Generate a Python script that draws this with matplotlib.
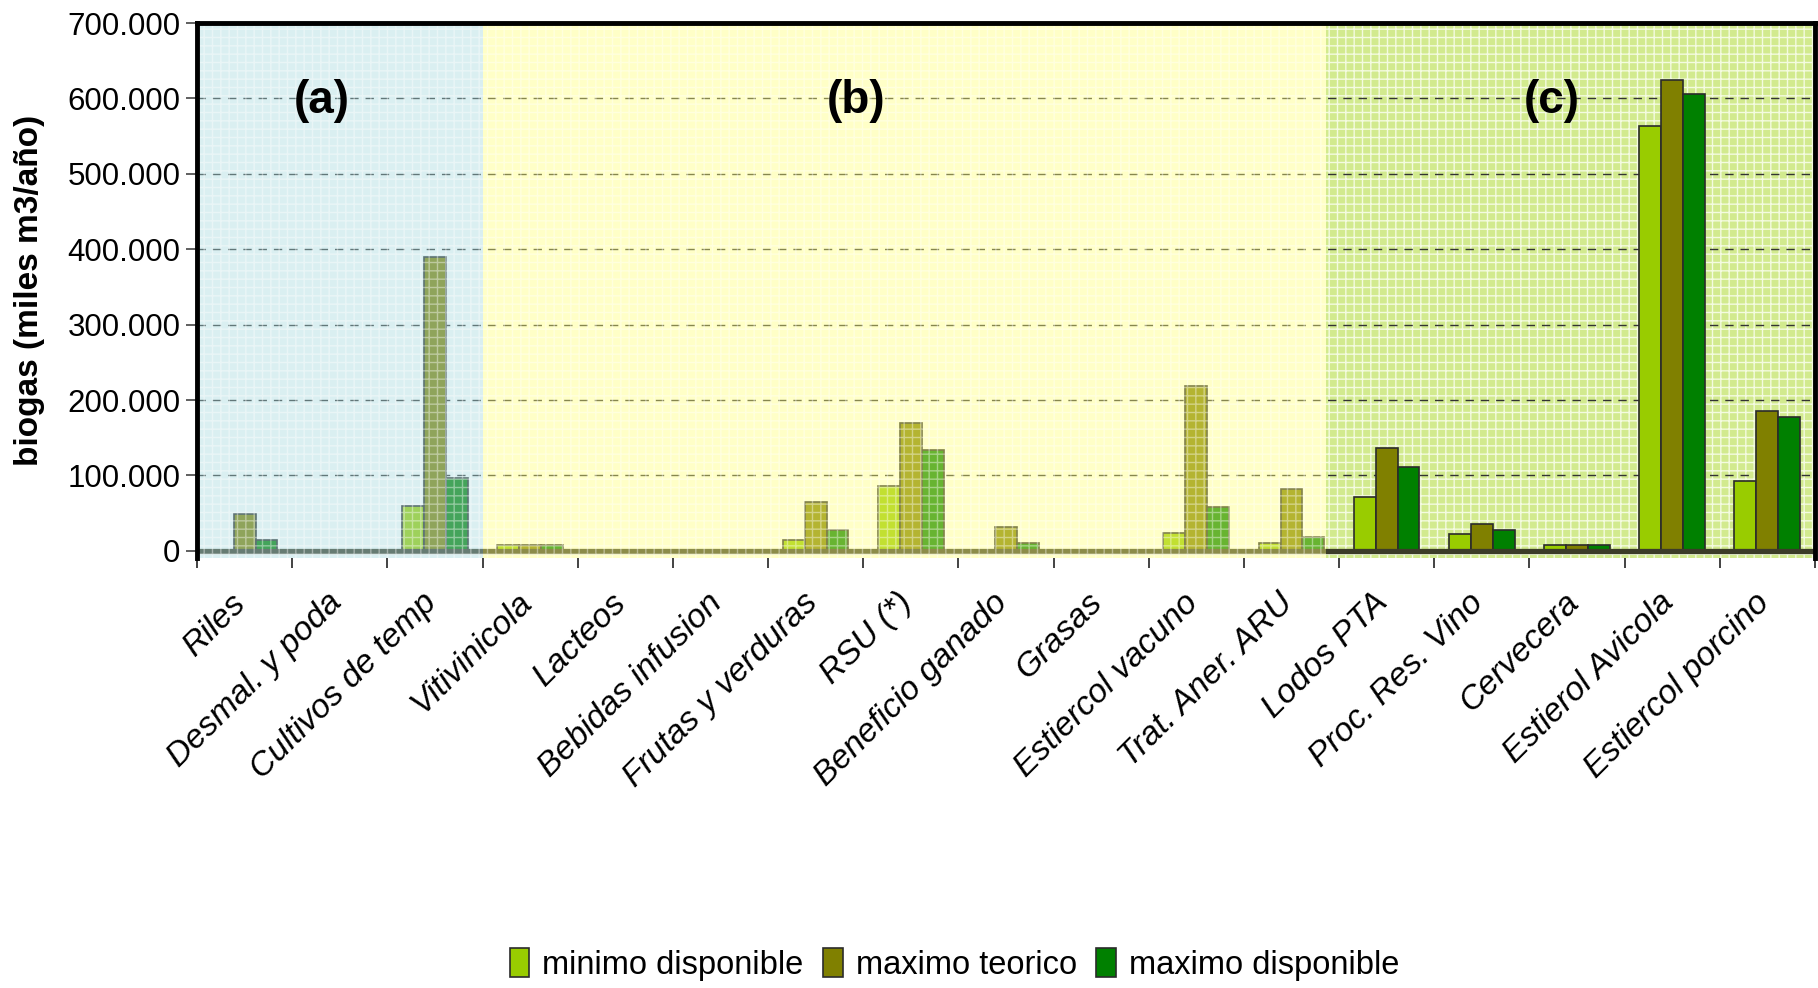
import numpy as np
import matplotlib.pyplot as plt
from matplotlib.ticker import FuncFormatter, MultipleLocator, FixedLocator
from matplotlib.transforms import ScaledTranslation

plt.rcParams['font.family'] = ['Liberation Sans', 'DejaVu Sans']

categorias = ["Riles", "Desmal. y poda", "Cultivos de temp", "Vitivinicola", "Lacteos",
              "Bebidas infusion", "Frutas y verduras", "RSU (*)", "Beneficio ganado", "Grasas",
              "Estiercol vacuno", "Trat. Aner. ARU", "Lodos PTA", "Proc. Res. Vino",
              "Cervecera", "Estierol Avicola", "Estiercol porcino"]

# miles m3/año
minimo_disponible = [0, 0, 60000, 7500, 0, 0, 14000, 86000, 0, 0,
                     23500, 11000, 71000, 22000, 7500, 563000, 92000]
maximo_teorico = [49000, 0, 390000, 7500, 0, 0, 65000, 169000, 31000, 0,
                  219000, 82000, 137000, 35000, 7500, 625000, 186000]
maximo_disponible = [14000, 0, 97000, 7500, 0, 0, 27000, 134000, 10000, 0,
                     58000, 18000, 111000, 27500, 7500, 606000, 178000]

series = ["minimo disponible", "maximo teorico", "maximo disponible"]
colores = ["#99CC00", "#808000", "#008000"]

# zonas de fondo (a), (b), (c)
zonas = ["(a)", "(b)", "(c)"]

fig = plt.figure(figsize=(18.18, 9.88), dpi=100)
ax = fig.add_axes([0.1084, 0.4352, 0.8899, 0.5415])

x = np.arange(len(categorias))
ancho = 0.23
valores = [minimo_disponible, maximo_teorico, maximo_disponible]
for i, (nombre, vals, col) in enumerate(zip(series, valores, colores)):
    ax.bar(x + (i - 1) * ancho, vals, ancho, color=col, edgecolor="#2b2b2b",
           linewidth=1.2, label=nombre, zorder=2)

ax.axhline(0, color="#3c3c28", lw=3.8, zorder=2.5)

# fondos: los de (a) y (b) tapan las barras, el de (c) queda detras
lim_a, lim_b = 2.5, 11.36
ax.axvspan(-0.5, lim_a, facecolor="#a6dadf", edgecolor="white", hatch="++",
           lw=0, alpha=0.41, zorder=3)
ax.axvspan(lim_a, lim_b, facecolor="#ffff79", edgecolor="white", hatch="++",
           lw=0, alpha=0.41, zorder=3)
ax.axvspan(lim_b, 16.5, facecolor="#d2ea8e", edgecolor="#f4fbe0", hatch="++",
           lw=0, zorder=0.1)

for txt, xp in zip(zonas, [0.81, 6.42, 13.73]):
    ax.text(xp, 597000, txt, ha="center", va="center", fontsize=33,
            fontweight="bold", zorder=5)

ax.set_xlim(-0.5, 16.5)
ax.set_ylim(-9500, 700000)
ax.yaxis.set_major_locator(MultipleLocator(100000))
ax.yaxis.set_major_formatter(FuncFormatter(lambda v, p: f"{v:,.0f}".replace(",", ".")))
ax.set_axisbelow(True)
ax.yaxis.grid(True, color="#333333", linestyle=(0, (6, 5)), linewidth=1.0)

ax.set_xticks(x)
ax.set_xticklabels(categorias, rotation=45, ha="right", rotation_mode="anchor",
                   fontsize=24, style="italic")
ax.tick_params(axis="x", which="major", length=0, pad=21)
desplazar = ScaledTranslation(-0.14, 0, fig.dpi_scale_trans)
for lbl in ax.get_xticklabels():
    lbl.set_transform(lbl.get_transform() + desplazar)
ax.xaxis.set_minor_locator(FixedLocator(np.arange(-0.5, 17, 1.0)))
ax.tick_params(axis="x", which="minor", length=7, width=1.2, direction="out", color="#222222")
ax.tick_params(axis="y", labelsize=22.5, length=8, width=1.2, color="#444444", pad=4)

ax.set_ylabel("biogas (miles m3/año)", fontsize=24, fontweight="bold")
ax.yaxis.set_label_coords(-0.094, 0.5)

for s in ["left", "top", "right"]:
    ax.spines[s].set_linewidth(3.5)
    ax.spines[s].set_zorder(6)
ax.spines["bottom"].set_visible(False)

fig.legend(loc="center", bbox_to_anchor=(0.525, 0.024), ncol=3, frameon=False,
           fontsize=23.5, handlelength=0.6, handleheight=1.0, handletextpad=0.4,
           columnspacing=0.6)

fig.savefig("out.png", dpi=100)
